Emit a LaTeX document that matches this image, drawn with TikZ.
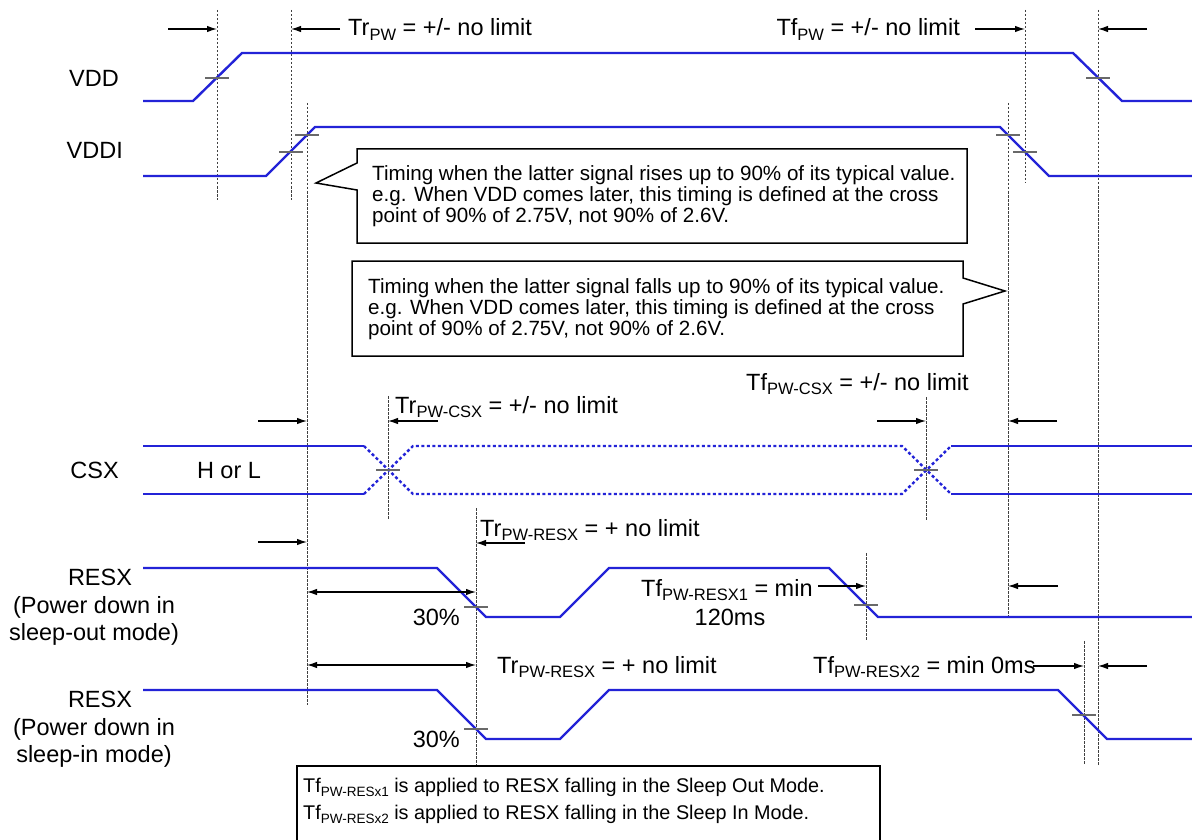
\documentclass[tikz,border=0pt]{standalone}
\usepackage{fontspec}
\setmainfont{Liberation Sans}
\usetikzlibrary{arrows.meta}
\definecolor{sig}{RGB}{35,35,215}
\definecolor{tickc}{RGB}{105,105,105}
\newcommand\lbl{\fontsize{23.5}{28}\selectfont}
\newcommand\cfont{\fontsize{20.6}{21.3}\selectfont}
\newcommand\nfont{\fontsize{19.8}{27}\selectfont}
\newcommand\lo[2][16.5]{\raisebox{-0.2em}{\fontsize{#1}{#1}\selectfont #2}}
\begin{document}
\begin{tikzpicture}[x=1pt,y=-1pt,
 signal/.style={draw=sig,line width=2.4pt,line join=miter},
 dotsig/.style={signal,dash pattern=on 3pt off 2.5pt},
 guide/.style={draw=black!75,line width=0.9pt,dash pattern=on 2.5pt off 1.5pt},
 tickmark/.style={draw=tickc,line width=1.6pt},
 dimarrow/.style={draw=black,line width=1.2pt,-{Latex[length=10pt,width=6.5pt]}},
 dimboth/.style={draw=black,line width=1.2pt,{Latex[length=10pt,width=6.5pt]}-{Latex[length=10pt,width=6.5pt]}},
 lab/.style={font=\lbl,inner sep=0pt},
 box/.style={draw=black,line width=1.5pt,fill=white,line join=miter},
]
\useasboundingbox (0,0) rectangle (1192,840);

% guides
\draw[guide] (217,10) -- (217,200);
\draw[guide] (291,10) -- (291,200);
\draw[guide] (307,103) -- (307,705);
\draw[guide] (388,396) -- (388,520);
\draw[guide] (476,508) -- (476,765);
\draw[guide] (866,553) -- (866,641);
\draw[guide] (926,397) -- (926,520);
\draw[guide] (1008,103) -- (1008,617);
\draw[guide] (1025,10) -- (1025,183);
\draw[guide] (1084,641) -- (1084,765);
\draw[guide] (1098,10) -- (1098,765);

% signals
\draw[signal] (143,101) -- (193,101) -- (242,53) -- (1073,53) -- (1122,101) -- (1192,101);
\draw[signal] (143,176) -- (266,176) -- (315,127) -- (1000,127) -- (1049,176) -- (1192,176);
\draw[signal] (143,446) -- (364,446);
\draw[signal] (143,494) -- (364,494);
\draw[dotsig] (364,446) -- (413,494) -- (902,494) -- (951,446);
\draw[dotsig] (364,494) -- (413,446) -- (902,446) -- (951,494);
\draw[signal] (951,446) -- (1192,446);
\draw[signal] (951,494) -- (1192,494);
\draw[signal] (143,568) -- (437,568) -- (486,617) -- (560,617) -- (609,568) -- (829,568) -- (878,617) -- (1192,617);
\draw[signal] (143,690) -- (437,690) -- (486,739) -- (560,739) -- (609,690) -- (1058,690) -- (1107,739) -- (1192,739);

% ticks
\foreach \tx/\ty in {217/78,291/152,307/135,1008/135,1025/152,1098/78,388/470,926/470,476/607,476/729,866/605,1084/715}
  \draw[tickmark] (\tx-12,\ty) -- (\tx+12,\ty);

% arrow end points
\coordinate (a1s) at (168,29);   \coordinate (a1e) at (217,29);
\coordinate (a2s) at (340,29);   \coordinate (a2e) at (291,29);
\coordinate (a3s) at (975,29);   \coordinate (a3e) at (1025,29);
\coordinate (a4s) at (1147,29);  \coordinate (a4e) at (1098,29);
\coordinate (a5s) at (258,421);  \coordinate (a5e) at (307,421);
\coordinate (a6s) at (438,421);  \coordinate (a6e) at (388,421);
\coordinate (a7s) at (877,421);  \coordinate (a7e) at (926,421);
\coordinate (a8s) at (1057,421); \coordinate (a8e) at (1008,421);
\coordinate (a9s) at (258,542);  \coordinate (a9e) at (307,542);
\coordinate (a10s) at (525,543); \coordinate (a10e) at (476,543);
\coordinate (a11s) at (307,592); \coordinate (a11e) at (476,592);
\coordinate (a12s) at (818,586); \coordinate (a12e) at (866,586);
\coordinate (a13s) at (1058,586);\coordinate (a13e) at (1008,586);
\coordinate (a14s) at (307,665); \coordinate (a14e) at (476,665);
\coordinate (a15s) at (1033,666);\coordinate (a15e) at (1084,666);
\coordinate (a16s) at (1147,666);\coordinate (a16e) at (1098,666);
\foreach \k in {1,...,10,12,13,15,16} \draw[dimarrow] (a\k s) -- (a\k e);
\draw[dimboth] (a11s) -- (a11e);
\draw[dimboth] (a14s) -- (a14e);

% labels
\node[lab,anchor=base east] (lvdd) at (119,86.5) {VDD};
\node[lab,anchor=base east] (lvddi) at (123,159) {VDDI};
\node[lab,anchor=base east] (lcsx) at (119,478) {CSX};
\node[lab,anchor=base] (r1a) at (100,585) {RESX};
\node[lab,anchor=base] (r1b) at (94,613) {(Power down in};
\node[lab,anchor=base] (r1c) at (94,640) {sleep-out mode)};
\node[lab,anchor=base] (r2a) at (100,707) {RESX};
\node[lab,anchor=base] (r2b) at (94,735) {(Power down in};
\node[lab,anchor=base] (r2c) at (94,762) {sleep-in mode)};

\node[lab,anchor=base west] (t1) at (348,36) {Tr\lo{PW} = +/- no limit};
\node[lab,anchor=base east] (t2) at (960,36) {Tf\lo{PW} = +/- no limit};
\node[lab,anchor=base west] (t3) at (395,413) {Tr\lo{PW-CSX} = +/- no limit};
\node[lab,anchor=base west] (t4) at (746,390) {Tf\lo{PW-CSX} = +/- no limit};
\node[lab,anchor=base west] (t5) at (480,536) {Tr\lo{PW-RESX} = + no limit};
\node[lab,anchor=base west] (t6) at (497,673) {Tr\lo{PW-RESX} = + no limit};
\node[lab,anchor=base west] (t7) at (641,596) {Tf\lo{PW-RESX1} = min};
\node[lab,anchor=base] (t8) at (730,625) {120ms};
\node[lab,anchor=base west] (t9) at (813,673) {Tf\lo{PW-RESX2} = min 0ms};
\node[lab,anchor=base east] (p1) at (460,625) {30\%};
\node[lab,anchor=base east] (p2) at (460,747) {30\%};
\node[lab,anchor=base] (hl) at (229,478) {H or L};

% callouts
\draw[box] (357,149) -- (967,149) -- (967,243) -- (357,243) -- (357,190) -- (316,183) -- (357,163) -- cycle;
\node[anchor=north west,inner sep=0pt,align=left,font=\cfont] (c1) at (372,165)
 {Timing when the latter signal rises up to 90\% of its typical value.\\
  e.g. When VDD comes later, this timing is defined at the cross\\
  point of 90\% of 2.75V, not 90\% of 2.6V.};
\draw[box] (352,261) -- (963,261) -- (963,278) -- (1005,291) -- (963,304) -- (963,356) -- (352,356) -- cycle;
\node[anchor=north west,inner sep=0pt,align=left,font=\cfont] (c2) at (368,278)
 {Timing when the latter signal falls up to 90\% of its typical value.\\
  e.g. When VDD comes later, this timing is defined at the cross\\
  point of 90\% of 2.75V, not 90\% of 2.6V.};

% note
\draw[box] (297,766) rectangle (880,852);
\node[anchor=north west,inner sep=0pt,align=left,font=\nfont] (note) at (303,777.5)
 {Tf\lo[13.5]{PW-RESx1} is applied to RESX falling in the Sleep Out Mode.\\
  Tf\lo[13.5]{PW-RESx2} is applied to RESX falling in the Sleep In Mode.};
\end{tikzpicture}
\end{document}
